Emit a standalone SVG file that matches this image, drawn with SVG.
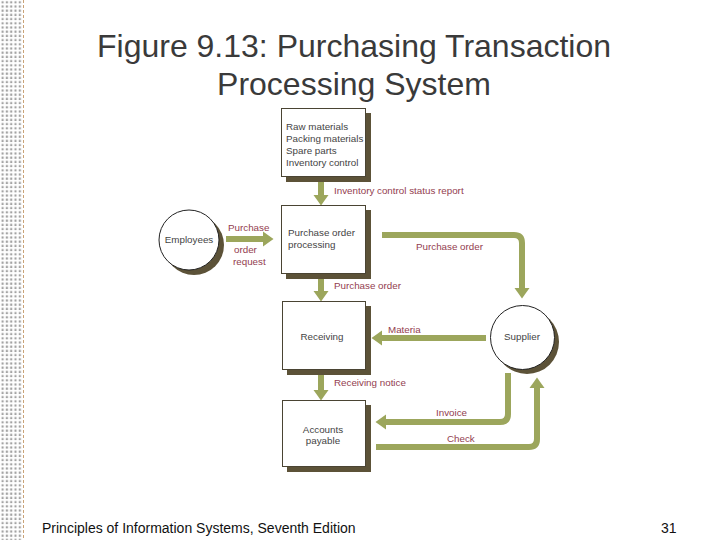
<svg xmlns="http://www.w3.org/2000/svg" width="720" height="540" viewBox="0 0 720 540">
<defs>
<pattern id="dots" x="0" y="0" width="4.3" height="4.2" patternUnits="userSpaceOnUse">
<rect x="1.5" y="1.2" width="2.2" height="2.2" fill="#a3a3a3"/>
</pattern>
<marker id="ah" markerUnits="userSpaceOnUse" markerWidth="12" markerHeight="16" refX="0" refY="7.5" orient="auto" viewBox="0 0 12 15">
<path d="M0,0 L10.5,7.5 L0,15 z" fill="#9ca65c"/>
</marker>
</defs>
<style>
.title{font-family:"Liberation Sans",Arial,sans-serif;font-size:32px;fill:#3a3a3a;text-anchor:middle}
.foot{font-family:"Liberation Sans",Arial,sans-serif;font-size:14px;fill:#111}
.box{fill:#fff;stroke:#4a4433;stroke-width:1}
.shadow{fill:#5c5238}
.node{font-family:"Liberation Sans",Arial,sans-serif;font-size:9.8px;fill:#444}
.mid{text-anchor:middle}
.lbl{font-family:"Liberation Sans",Arial,sans-serif;font-size:9.8px;fill:#93404f}
.flow{fill:none;stroke:#9ca65c;stroke-width:6;marker-end:url(#ah)}
</style>
<rect width="720" height="540" fill="#fff"/>
<rect x="0" y="0" width="22" height="540" fill="url(#dots)"/>
<line x1="23.5" y1="0" x2="23.5" y2="540" stroke="#c9a277" stroke-width="1" stroke-dasharray="3,2"/>

<text class="title" x="354" y="57">Figure 9.13: Purchasing Transaction</text>
<text class="title" x="354" y="95">Processing System</text>

<g id="connectors">
<path class="flow" d="M321,181 V195"/>
<path class="flow" d="M226,239 H263"/>
<path class="flow" d="M382,235 H514 Q522,235 522,243 V288"/>
<path class="flow" d="M321,278 V291"/>
<path class="flow" d="M486,338 H382"/>
<path class="flow" d="M321,375 V390"/>
<path class="flow" d="M508,373 V414 Q508,422 500,422 H386"/>
<path class="flow" d="M376,447 H529 Q537,447 537,439 V388"/>
<text class="lbl" x="334" y="194">Inventory control status report</text>
<text class="lbl" x="228" y="231">Purchase</text>
<text class="lbl" x="234" y="253">order</text>
<text class="lbl" x="233" y="265">request</text>
<text class="lbl" x="416" y="250">Purchase order</text>
<text class="lbl" x="334" y="289">Purchase order</text>
<text class="lbl" x="388" y="333">Materia</text>
<text class="lbl" x="334" y="386">Receiving notice</text>
<text class="lbl" x="436" y="416">Invoice</text>
<text class="lbl" x="447" y="442">Check</text>
</g>

<g id="inventory">
<rect class="shadow" x="286" y="113" width="85" height="69"/>
<rect class="box" x="281.5" y="108.5" width="84" height="68"/>
<text class="node" x="286" y="130">Raw materials</text>
<text class="node" x="286" y="142">Packing materials</text>
<text class="node" x="286" y="154">Spare parts</text>
<text class="node" x="286" y="166">Inventory control</text>
</g>

<g id="po-processing">
<rect class="shadow" x="286" y="210" width="85" height="69"/>
<rect class="box" x="281.5" y="205.5" width="84" height="68"/>
<text class="node" x="288" y="236">Purchase order</text>
<text class="node" x="288" y="248">processing</text>
</g>

<g id="receiving">
<rect class="shadow" x="287" y="306" width="84" height="69"/>
<rect class="box" x="282.5" y="301.5" width="83" height="68"/>
<text class="node mid" x="322" y="340">Receiving</text>
</g>

<g id="accounts-payable">
<rect class="shadow" x="287" y="405" width="84" height="67"/>
<rect class="box" x="282.5" y="400.5" width="83" height="66"/>
<text class="node mid" x="323" y="433">Accounts</text>
<text class="node mid" x="323" y="444">payable</text>
</g>

<g id="employees">
<circle cx="194" cy="245" r="30" class="shadow"/>
<circle cx="189" cy="240" r="30" fill="#fff" stroke="#222" stroke-width="1"/>
<text class="node mid" x="189" y="243">Employees</text>
</g>

<g id="supplier">
<circle cx="527" cy="342" r="32" class="shadow"/>
<circle cx="522.5" cy="337.5" r="32" fill="#fff" stroke="#222" stroke-width="1"/>
<text class="node mid" x="522" y="340">Supplier</text>
</g>

<text class="foot" x="42" y="533">Principles of Information Systems, Seventh Edition</text>
<text class="foot" x="661" y="533">31</text>
</svg>
